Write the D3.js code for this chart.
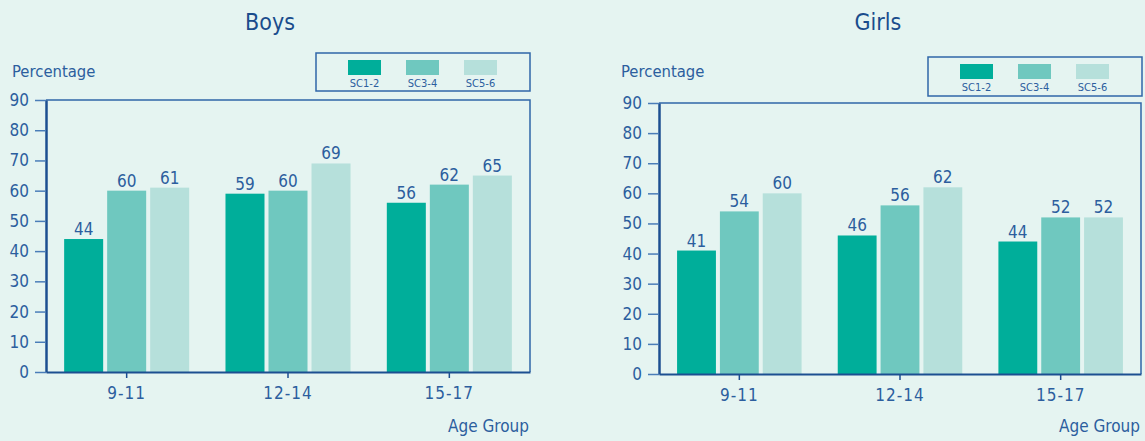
<!DOCTYPE html>
<html><head><meta charset="utf-8">
<script src="https://cdn.jsdelivr.net/npm/d3@7"></script>
<style>
html,body{margin:0;padding:0;background:#e5f4f1;}
svg{display:block;}
text{font-family:"DejaVu Sans Condensed","DejaVu Sans","Liberation Sans",sans-serif;}
</style></head>
<body>
<svg id="chart" width="1145" height="441"></svg>
<script>
const ageGroups = ["9-11", "12-14", "15-17"];
const seriesNames = ["SC1-2", "SC3-4", "SC5-6"];
const boysValues = [[44, 60, 61], [59, 60, 69], [56, 62, 65]];
const girlsValues = [[41, 54, 60], [46, 56, 62], [44, 52, 52]];
const yTicks = [0, 10, 20, 30, 40, 50, 60, 70, 80, 90];
const panelTitles = ["Boys", "Girls"];

const colors = ["#00ae9a", "#6fc8bf", "#b6e0db"];
const textColor = "#2c5e9e";
const darkBlue = "#1c4f91";
const midBlue = "#4a7db8";

const svg = d3.select("#chart");
svg.append("rect").attr("width", 1145).attr("height", 441).attr("fill", "#e5f4f1");

const panels = [
  {title: panelTitles[0], values: boysValues, left: 46, right: 530, top: 100, bottom: 372,
   titleX: 270, titleY: 30, pctX: 12, pctY: 77, legend: {x: 316, y: 53, w: 214, h: 38}, ageY: 432},
  {title: panelTitles[1], values: girlsValues, left: 659, right: 1141, top: 103, bottom: 374,
   titleX: 878, titleY: 30, pctX: 621, pctY: 77, legend: {x: 928, y: 57, w: 214, h: 39}, ageY: 432}
];

panels.forEach(p => {
  const g = svg.append("g");
  const y = d3.scaleLinear().domain([0, 90]).range([p.bottom, p.top]);
  const x0 = d3.scaleBand().domain(ageGroups).range([p.left, p.right]).paddingInner(0.225).paddingOuter(0.1125);
  const x1 = d3.scaleBand().domain(seriesNames).range([0, x0.bandwidth()]).paddingInner(0.093).paddingOuter(0);

  // frame (top & right)
  g.append("path")
    .attr("d", `M${p.left},${p.top}H${p.right}V${p.bottom}`)
    .attr("fill", "none").attr("stroke", "#2f66a8").attr("stroke-width", 1.5);

  // bars
  const groups = g.selectAll("g.grp").data(ageGroups).enter().append("g")
    .attr("transform", d => `translate(${x0(d)},0)`);
  groups.each(function(ag, gi) {
    const sel = d3.select(this);
    const vals = p.values[gi];
    sel.selectAll("rect").data(seriesNames).enter().append("rect")
      .attr("x", s => x1(s))
      .attr("width", x1.bandwidth())
      .attr("y", (s, si) => y(vals[si]))
      .attr("height", (s, si) => y(0) - y(vals[si]))
      .attr("fill", (s, si) => colors[si]);
    sel.selectAll("text").data(seriesNames).enter().append("text")
      .attr("x", s => x1(s) + x1.bandwidth() / 2)
      .attr("y", (s, si) => y(vals[si]) - 4)
      .attr("text-anchor", "middle")
      .attr("font-size", 17)
      .attr("fill", textColor)
      .text((s, si) => vals[si]);
  });

  // y axis
  const yAxis = g.append("g").attr("transform", `translate(${p.left},0)`)
    .call(d3.axisLeft(y).tickValues(yTicks).tickSize(11).tickSizeOuter(0).tickPadding(6));
  yAxis.select(".domain").attr("stroke", darkBlue).attr("stroke-width", 2.5);
  yAxis.selectAll(".tick line").attr("stroke", midBlue).attr("stroke-width", 1.5);
  yAxis.selectAll(".tick text").attr("font-size", 17).attr("fill", textColor).attr("font-family", null);

  // x axis
  const xAxis = g.append("g").attr("transform", `translate(0,${p.bottom})`)
    .call(d3.axisBottom(x0).tickSize(6).tickSizeOuter(0).tickPadding(9));
  xAxis.select(".domain").attr("stroke", darkBlue).attr("stroke-width", 2);
  xAxis.selectAll(".tick line").attr("stroke", darkBlue).attr("stroke-width", 1.5);
  xAxis.selectAll(".tick text").attr("font-size", 17).attr("fill", textColor).attr("font-family", null)
    .attr("letter-spacing", 1);

  // title
  g.append("text").attr("x", p.titleX).attr("y", p.titleY).attr("text-anchor", "middle")
    .attr("font-size", 23).attr("fill", "#1a4c8c").text(p.title);
  // Percentage
  g.append("text").attr("x", p.pctX).attr("y", p.pctY).attr("font-size", 16.5)
    .attr("fill", textColor).text("Percentage");
  // Age Group
  g.append("text").attr("x", p.right - 1).attr("y", p.ageY).attr("text-anchor", "end")
    .attr("font-size", 17).attr("fill", textColor).text("Age Group");

  // legend
  const L = p.legend;
  g.append("rect").attr("x", L.x).attr("y", L.y).attr("width", L.w).attr("height", L.h)
    .attr("fill", "none").attr("stroke", "#2f66a8").attr("stroke-width", 1.5);
  const lg = g.selectAll("g.leg").data(seriesNames).enter().append("g")
    .attr("transform", (d, i) => `translate(${L.x + 32 + i * 58},${L.y + 7})`);
  lg.append("rect").attr("width", 33).attr("height", 15).attr("fill", (d, i) => colors[i]);
  lg.append("text").attr("x", 16.5).attr("y", 27).attr("text-anchor", "middle")
    .attr("font-size", 11).attr("fill", textColor).text(d => d);
});
</script>
</body></html>
